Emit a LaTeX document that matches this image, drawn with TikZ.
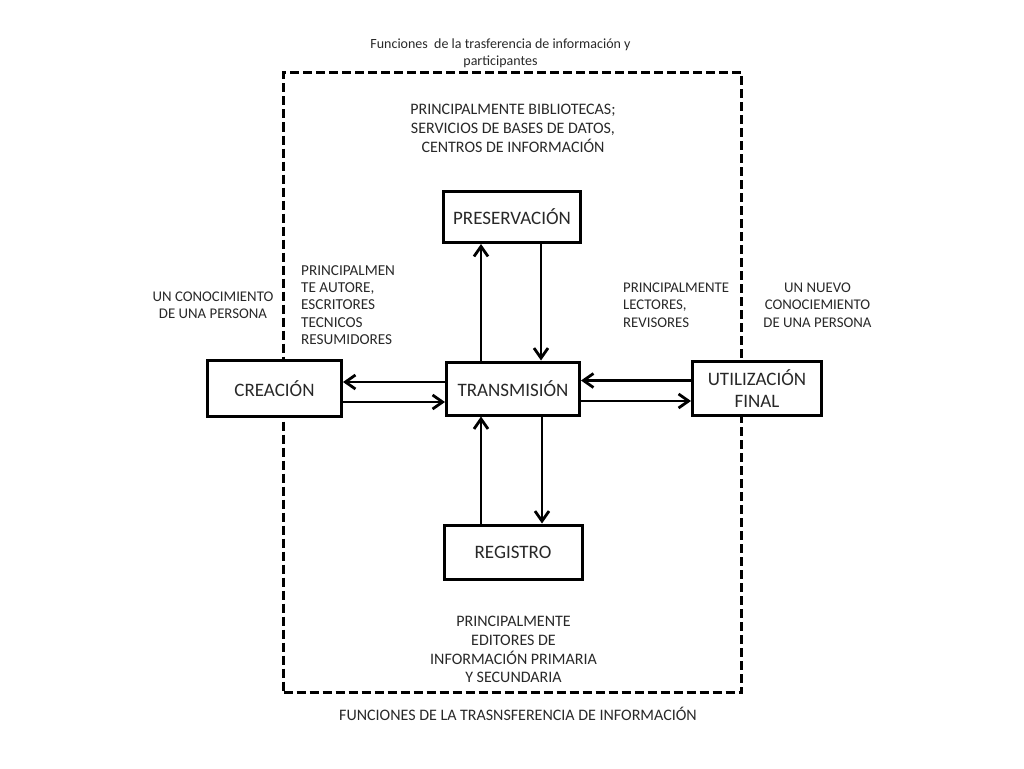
\documentclass[tikz,border=0pt]{standalone}
\usepackage{fontspec}
\setmainfont{Carlito}
\usetikzlibrary{arrows.meta}
\definecolor{txt}{RGB}{40,40,40}
\begin{document}
\begin{tikzpicture}[x=1pt,y=-1pt,
  box/.style={draw, line width=3pt, fill=white, inner sep=0pt, align=center,
    text=txt, font=\fontsize{19}{22.5}\selectfont},
  lbl/.style={inner sep=0pt, text=txt, font=\fontsize{14.8}{17.5}\selectfont},
  big/.style={inner sep=0pt, text=txt, font=\fontsize{16}{18.8}\selectfont},
  arr/.style={line width=2.8pt, -{Straight Barb[length=10pt,width=14pt]}},
  frm/.style={draw, line width=2.8pt, dash pattern=on 9pt off 4pt, inner sep=0pt}]
\useasboundingbox (0,0) rectangle (1024,768);
% frame
\node[frm, minimum width=458pt, minimum height=620pt] (frame) at (512.5,382.5) {};
% title and caption
\node[inner sep=0pt, text=txt, font=\fontsize{14}{16.7}\selectfont, align=center] (title) at (500.5,53.5) {Funciones\ \ de la trasferencia de información y\\participantes};
\node[big] (caption) at (518,713.5) {FUNCIONES DE LA TRASNSFERENCIA DE INFORMACIÓN};
% boxes
\node[box, minimum width=137pt, minimum height=51pt] (pres) at (512,217) {PRESERVACIÓN};
\node[box, minimum width=133pt, minimum height=53pt] (trans) at (513,388.5) {TRANSMISIÓN};
\node[box, minimum width=134pt, minimum height=56pt] (crea) at (274.5,388.5) {CREACIÓN};
\node[box, minimum width=129pt, minimum height=54pt] (util) at (757,388.5) {UTILIZACIÓN\\FINAL};
\node[box, minimum width=138pt, minimum height=54pt] (reg) at (513,552) {REGISTRO};
% labels
\node[big, align=center] (lib) at (513,128.5) {PRINCIPALMENTE BIBLIOTECAS;\\SERVICIOS DE BASES DE DATOS,\\CENTROS DE INFORMACIÓN};
\node[big, align=center] (edit) at (513.5,649.5) {PRINCIPALMENTE\\EDITORES DE\\INFORMACIÓN PRIMARIA\\Y SECUNDARIA};
\node[lbl, font=\fontsize{15.2}{17.4}\selectfont, align=left, anchor=west] (aut) at (301,305) {PRINCIPALMEN\\TE AUTORE,\\ESCRITORES\\TECNICOS\\RESUMIDORES};
\node[lbl, align=center] (con) at (213,305) {UN CONOCIMIENTO\\DE UNA PERSONA};
\node[lbl, align=left, anchor=west] (lec) at (623,305) {PRINCIPALMENTE\\LECTORES,\\REVISORES};
\node[lbl, align=center] (nue) at (817.5,305) {UN NUEVO\\CONOCIEMIENTO\\DE UNA PERSONA};
% arrows horizontal
\draw[arr] ([yshift=6.5pt]trans.west) -- ([yshift=6.5pt]trans.west -| crea.east);
\draw[arr] ([yshift=-13.5pt]crea.east) -- ([yshift=-13.5pt]crea.east -| trans.west);
\draw[arr] ([yshift=8pt]util.west) -- ([yshift=8pt]util.west -| trans.east);
\draw[arr] ([yshift=-12.5pt]trans.east) -- ([yshift=-12.5pt]trans.east -| util.west);
% arrows vertical
\draw[arr] ([xshift=-32pt]trans.north) -- ([xshift=-32pt]trans.north |- pres.south);
\draw[arr] ([xshift=29pt]pres.south) -- ([xshift=29pt]pres.south |- trans.north);
\draw[arr] ([xshift=-32pt]reg.north) -- ([xshift=-32pt]reg.north |- trans.south);
\draw[arr] ([xshift=29pt]trans.south) -- ([xshift=29pt]trans.south |- reg.north);
\end{tikzpicture}
\end{document}
